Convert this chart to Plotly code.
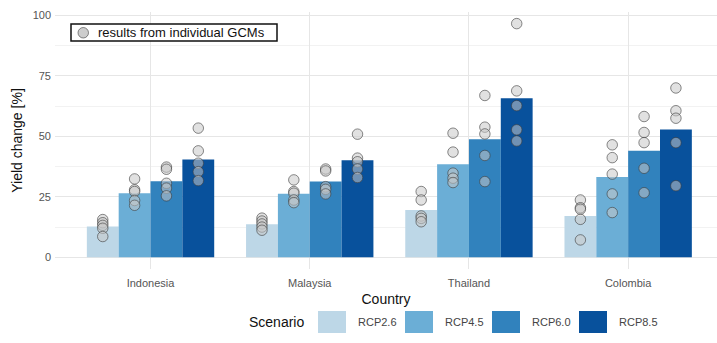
import plotly.graph_objects as go

# Countries and emission scenarios
countries = ["Indonesia", "Malaysia", "Thailand", "Colombia"]
scenarios = ["RCP2.6", "RCP4.5", "RCP6.0", "RCP8.5"]
scenario_colors = ["#bdd7e7", "#6baed6", "#3182bd", "#08519c"]

# Ensemble-mean yield change [%] per scenario (one value per country)
rcp26_mean = [12.7, 13.7, 19.6, 17.1]
rcp45_mean = [26.5, 26.3, 38.5, 33.2]
rcp60_mean = [31.4, 31.3, 48.8, 44.0]
rcp85_mean = [40.4, 40.1, 65.8, 52.8]

# Yield change [%] from the individual GCMs (per country)
rcp26_gcm = [[15.6, 14.3, 13.2, 12.0, 8.6], [16.2, 15.0, 13.8, 12.5, 11.2],
             [27.2, 23.7, 17.1, 16.1, 14.7], [23.7, 20.5, 19.9, 15.7, 7.2]]
rcp45_gcm = [[32.4, 27.9, 27.2, 23.5, 21.5], [32.0, 27.2, 26.5, 23.7, 22.6],
             [51.3, 43.5, 34.8, 32.7, 30.9], [46.5, 41.2, 34.4, 26.2, 18.5]]
rcp60_gcm = [[37.3, 36.4, 30.6, 28.6, 25.4], [36.5, 35.7, 29.2, 28.1, 26.2],
             [66.9, 53.8, 51.0, 42.1, 31.3], [58.2, 51.6, 47.4, 36.8, 26.7]]
rcp85_gcm = [[53.4, 44.0, 38.9, 35.4, 31.7], [50.9, 41.0, 39.5, 36.5, 33.0],
             [96.6, 68.8, 62.7, 52.7, 48.1], [70.0, 60.6, 57.5, 47.4, 29.6]]

y_ticks = [0, 25, 50, 75, 100]

means = [rcp26_mean, rcp45_mean, rcp60_mean, rcp85_mean]
gcms = [rcp26_gcm, rcp45_gcm, rcp60_gcm, rcp85_gcm]

FONT = "Liberation Sans, Arial, sans-serif"
W, H = 717, 343
ML, MR, MT, MB = 55, 0, 12, 74
PW, PH = W - ML - MR, H - MT - MB

dodge = 0.8
bar_w = dodge / len(scenarios)
centers = list(range(1, len(countries) + 1))

POINT_FILL = "rgba(200,200,200,0.55)"
POINT_LINE = "rgba(60,60,60,0.6)"


def px_x(p):
    """pixel column -> paper x"""
    return (p - ML) / PW


def px_y(p):
    """pixel row -> paper y"""
    return 1 - (p - MT) / PH


fig = go.Figure()

# dodged bars, one trace per scenario
for j, (name, col, vals) in enumerate(zip(scenarios, scenario_colors, means)):
    xs = [c + (j - (len(scenarios) - 1) / 2) * bar_w for c in centers]
    fig.add_trace(go.Bar(
        x=xs, y=vals, width=bar_w, name=name,
        marker=dict(color=col, line=dict(width=0)),
        showlegend=False, hoverinfo="skip",
    ))

# individual GCM results on top of each bar
px, py = [], []
for j, per_country in enumerate(gcms):
    for c, pts in zip(centers, per_country):
        x0 = c + (j - (len(scenarios) - 1) / 2) * bar_w
        px.extend([x0] * len(pts))
        py.extend(pts)

fig.add_trace(go.Scatter(
    x=px, y=py, mode="markers", name="results from individual GCMs",
    marker=dict(size=10.5, color=POINT_FILL, line=dict(color=POINT_LINE, width=1)),
    showlegend=False, hoverinfo="skip",
))

shapes, annotations = [], []

# key for the GCM points (boxed, top-left inside the panel)
shapes.append(dict(type="rect", xref="paper", yref="paper",
                   x0=px_x(71), x1=px_x(277), y0=px_y(41), y1=px_y(24),
                   line=dict(color="#111111", width=1.5), fillcolor="white", layer="above"))
shapes.append(dict(type="circle", xref="paper", yref="paper",
                   x0=px_x(78), x1=px_x(88.5), y0=px_y(38), y1=px_y(27.5),
                   line=dict(color=POINT_LINE, width=1), fillcolor="rgba(205,205,205,1)",
                   layer="above"))
annotations.append(dict(text="results from individual GCMs", xref="paper", yref="paper",
                        x=px_x(96), y=px_y(32.5), xanchor="left", yanchor="middle",
                        showarrow=False, font=dict(size=13, color="#111111", family=FONT)))

# scenario key below the axis title
leg_y = 322
annotations.append(dict(text="Scenario", xref="paper", yref="paper",
                        x=px_x(247), y=px_y(leg_y), xanchor="left", yanchor="middle",
                        showarrow=False, font=dict(size=14, color="#111111", family=FONT)))
sw_x0, sw_w, sw_h, step = 318, 28, 22, 87
for j, (name, col) in enumerate(zip(scenarios, scenario_colors)):
    x0 = sw_x0 + j * step
    shapes.append(dict(type="rect", xref="paper", yref="paper",
                       x0=px_x(x0), x1=px_x(x0 + sw_w),
                       y0=px_y(leg_y + sw_h / 2), y1=px_y(leg_y - sw_h / 2),
                       line=dict(width=0), fillcolor=col))
    annotations.append(dict(text=name, xref="paper", yref="paper",
                            x=px_x(x0 + sw_w + 10), y=px_y(leg_y), xanchor="left",
                            yanchor="middle", showarrow=False,
                            font=dict(size=11, color="#444444", family=FONT)))

grid_major = "#e6e6e6"
grid_minor = "#f2f2f2"

fig.update_layout(
    width=W, height=H,
    margin=dict(l=ML, r=MR, t=MT, b=MB),
    paper_bgcolor="white", plot_bgcolor="white",
    font=dict(family=FONT, size=11, color="#333333"),
    barmode="overlay",
    showlegend=False,
    shapes=shapes,
    annotations=annotations,
    xaxis=dict(
        range=[0.4, 4.558], tickvals=centers, ticktext=countries,
        showgrid=True, gridcolor=grid_major, gridwidth=1,
        zeroline=False, showline=False, ticks="",
        ticklabelstandoff=6,
        tickfont=dict(size=11, color="#555555", family=FONT),
        title=dict(text="Country", font=dict(size=14, color="#111111", family=FONT),
                   standoff=6),
    ),
    yaxis=dict(
        range=[-4.83, 101.4], tickvals=y_ticks,
        showgrid=True, gridcolor=grid_major, gridwidth=1,
        minor=dict(tickvals=[12.5, 37.5, 62.5, 87.5], showgrid=True,
                   gridcolor=grid_minor, gridwidth=1),
        zeroline=False, showline=False, ticks="",
        ticklabelstandoff=3,
        tickfont=dict(size=11, color="#555555", family=FONT),
        title=dict(text="Yield change [%]", font=dict(size=14, color="#111111", family=FONT),
                   standoff=6),
    ),
)

fig.write_html("out.html")
